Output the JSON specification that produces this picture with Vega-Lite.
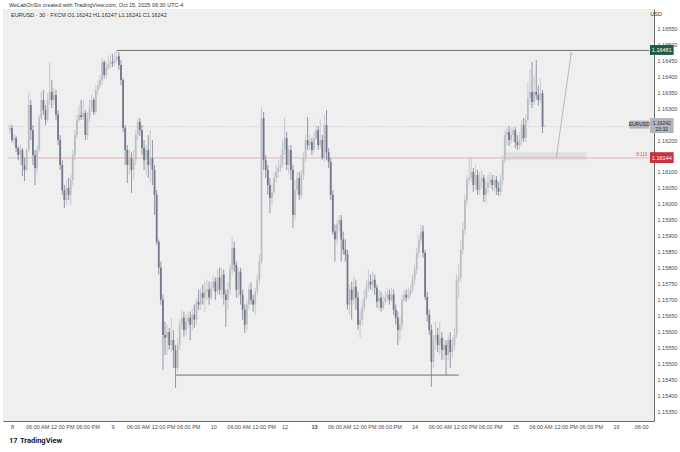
{
"$schema": "https://vega.github.io/schema/vega-lite/v6.json",
"autosize": {"type": "none"},
"padding": {"left": 3, "top": 9, "right": 26, "bottom": 31},
"width": 651,
"height": 412,
"background": "#ffffff",
"view": {"fill": "#efefef", "stroke": null},
"config": {"font": "Liberation Sans"},
"datasets": {
"candles": [
{"i":-1,"o":1.16231,"h":1.16250,"l":1.16219,"c":1.16238},
{"i":0,"o":1.16238,"h":1.16247,"l":1.16194,"c":1.16200},
{"i":1,"o":1.16200,"h":1.16219,"l":1.16184,"c":1.16206},
{"i":2,"o":1.16206,"h":1.16213,"l":1.16162,"c":1.16175},
{"i":3,"o":1.16175,"h":1.16181,"l":1.16137,"c":1.16153},
{"i":4,"o":1.16153,"h":1.16188,"l":1.16122,"c":1.16169},
{"i":5,"o":1.16169,"h":1.16175,"l":1.16087,"c":1.16122},
{"i":6,"o":1.16122,"h":1.16144,"l":1.16072,"c":1.16106},
{"i":7,"o":1.16106,"h":1.16175,"l":1.16100,"c":1.16169},
{"i":8,"o":1.16169,"h":1.16351,"l":1.16162,"c":1.16310},
{"i":9,"o":1.16310,"h":1.16326,"l":1.16200,"c":1.16231},
{"i":10,"o":1.16231,"h":1.16247,"l":1.16122,"c":1.16153},
{"i":11,"o":1.16153,"h":1.16169,"l":1.16059,"c":1.16112},
{"i":12,"o":1.16112,"h":1.16184,"l":1.16091,"c":1.16169},
{"i":13,"o":1.16169,"h":1.16279,"l":1.16162,"c":1.16269},
{"i":14,"o":1.16269,"h":1.16351,"l":1.16263,"c":1.16326},
{"i":15,"o":1.16326,"h":1.16357,"l":1.16279,"c":1.16294},
{"i":16,"o":1.16294,"h":1.16310,"l":1.16247,"c":1.16263},
{"i":17,"o":1.16263,"h":1.16347,"l":1.16257,"c":1.16326},
{"i":18,"o":1.16326,"h":1.16445,"l":1.16310,"c":1.16351},
{"i":19,"o":1.16351,"h":1.16388,"l":1.16300,"c":1.16326},
{"i":20,"o":1.16326,"h":1.16363,"l":1.16310,"c":1.16341},
{"i":21,"o":1.16341,"h":1.16357,"l":1.16263,"c":1.16279},
{"i":22,"o":1.16279,"h":1.16294,"l":1.16184,"c":1.16200},
{"i":23,"o":1.16200,"h":1.16216,"l":1.16106,"c":1.16122},
{"i":24,"o":1.16122,"h":1.16137,"l":1.16028,"c":1.16043},
{"i":25,"o":1.16043,"h":1.16059,"l":1.15987,"c":1.16012},
{"i":26,"o":1.16012,"h":1.16075,"l":1.15996,"c":1.16050},
{"i":27,"o":1.16050,"h":1.16081,"l":1.16012,"c":1.16028},
{"i":28,"o":1.16028,"h":1.16091,"l":1.15996,"c":1.16075},
{"i":29,"o":1.16075,"h":1.16169,"l":1.16059,"c":1.16153},
{"i":30,"o":1.16153,"h":1.16231,"l":1.16137,"c":1.16216},
{"i":31,"o":1.16216,"h":1.16279,"l":1.16206,"c":1.16263},
{"i":32,"o":1.16263,"h":1.16310,"l":1.16257,"c":1.16279},
{"i":33,"o":1.16279,"h":1.16326,"l":1.16263,"c":1.16272},
{"i":34,"o":1.16272,"h":1.16326,"l":1.16263,"c":1.16285},
{"i":35,"o":1.16285,"h":1.16294,"l":1.16200,"c":1.16216},
{"i":36,"o":1.16216,"h":1.16288,"l":1.16200,"c":1.16269},
{"i":37,"o":1.16269,"h":1.16326,"l":1.16257,"c":1.16300},
{"i":38,"o":1.16300,"h":1.16341,"l":1.16288,"c":1.16326},
{"i":39,"o":1.16326,"h":1.16332,"l":1.16279,"c":1.16288},
{"i":40,"o":1.16288,"h":1.16372,"l":1.16282,"c":1.16357},
{"i":41,"o":1.16357,"h":1.16388,"l":1.16341,"c":1.16372},
{"i":42,"o":1.16372,"h":1.16404,"l":1.16363,"c":1.16388},
{"i":43,"o":1.16388,"h":1.16457,"l":1.16372,"c":1.16445},
{"i":44,"o":1.16445,"h":1.16451,"l":1.16394,"c":1.16404},
{"i":45,"o":1.16404,"h":1.16445,"l":1.16394,"c":1.16426},
{"i":46,"o":1.16426,"h":1.16463,"l":1.16420,"c":1.16438},
{"i":47,"o":1.16438,"h":1.16467,"l":1.16426,"c":1.16445},
{"i":48,"o":1.16445,"h":1.16470,"l":1.16429,"c":1.16441},
{"i":49,"o":1.16441,"h":1.16476,"l":1.16432,"c":1.16451},
{"i":50,"o":1.16451,"h":1.16481,"l":1.16445,"c":1.16463},
{"i":51,"o":1.16463,"h":1.16476,"l":1.16420,"c":1.16435},
{"i":52,"o":1.16435,"h":1.16451,"l":1.16372,"c":1.16388},
{"i":53,"o":1.16388,"h":1.16394,"l":1.16225,"c":1.16238},
{"i":54,"o":1.16238,"h":1.16247,"l":1.16122,"c":1.16169},
{"i":55,"o":1.16169,"h":1.16184,"l":1.16065,"c":1.16122},
{"i":56,"o":1.16122,"h":1.16169,"l":1.16091,"c":1.16144},
{"i":57,"o":1.16144,"h":1.16162,"l":1.16034,"c":1.16106},
{"i":58,"o":1.16106,"h":1.16169,"l":1.16075,"c":1.16137},
{"i":59,"o":1.16137,"h":1.16231,"l":1.16122,"c":1.16216},
{"i":60,"o":1.16216,"h":1.16269,"l":1.16200,"c":1.16257},
{"i":61,"o":1.16257,"h":1.16269,"l":1.16213,"c":1.16231},
{"i":62,"o":1.16231,"h":1.16247,"l":1.16153,"c":1.16175},
{"i":63,"o":1.16175,"h":1.16200,"l":1.16106,"c":1.16137},
{"i":64,"o":1.16137,"h":1.16184,"l":1.16091,"c":1.16169},
{"i":65,"o":1.16169,"h":1.16216,"l":1.16081,"c":1.16122},
{"i":66,"o":1.16122,"h":1.16231,"l":1.16068,"c":1.16144},
{"i":67,"o":1.16144,"h":1.16200,"l":1.16059,"c":1.16106},
{"i":68,"o":1.16106,"h":1.16122,"l":1.15965,"c":1.16028},
{"i":69,"o":1.16028,"h":1.16043,"l":1.15872,"c":1.15881},
{"i":70,"o":1.15881,"h":1.15888,"l":1.15778,"c":1.15800},
{"i":71,"o":1.15800,"h":1.15819,"l":1.15684,"c":1.15699},
{"i":72,"o":1.15699,"h":1.15715,"l":1.15479,"c":1.15589},
{"i":73,"o":1.15589,"h":1.15630,"l":1.15526,"c":1.15580},
{"i":74,"o":1.15580,"h":1.15621,"l":1.15526,"c":1.15598},
{"i":75,"o":1.15598,"h":1.15611,"l":1.15542,"c":1.15557},
{"i":76,"o":1.15557,"h":1.15643,"l":1.15535,"c":1.15573},
{"i":77,"o":1.15573,"h":1.15604,"l":1.15485,"c":1.15542},
{"i":78,"o":1.15542,"h":1.15557,"l":1.15423,"c":1.15485},
{"i":79,"o":1.15485,"h":1.15580,"l":1.15472,"c":1.15557},
{"i":80,"o":1.15557,"h":1.15637,"l":1.15542,"c":1.15621},
{"i":81,"o":1.15621,"h":1.15668,"l":1.15604,"c":1.15643},
{"i":82,"o":1.15643,"h":1.15662,"l":1.15583,"c":1.15604},
{"i":83,"o":1.15604,"h":1.15652,"l":1.15586,"c":1.15630},
{"i":84,"o":1.15630,"h":1.15662,"l":1.15611,"c":1.15643},
{"i":85,"o":1.15643,"h":1.15662,"l":1.15573,"c":1.15621},
{"i":86,"o":1.15621,"h":1.15674,"l":1.15604,"c":1.15652},
{"i":87,"o":1.15652,"h":1.15684,"l":1.15611,"c":1.15637},
{"i":88,"o":1.15637,"h":1.15706,"l":1.15621,"c":1.15693},
{"i":89,"o":1.15693,"h":1.15731,"l":1.15668,"c":1.15684},
{"i":90,"o":1.15684,"h":1.15737,"l":1.15668,"c":1.15721},
{"i":91,"o":1.15721,"h":1.15747,"l":1.15684,"c":1.15706},
{"i":92,"o":1.15706,"h":1.15756,"l":1.15662,"c":1.15725},
{"i":93,"o":1.15725,"h":1.15762,"l":1.15699,"c":1.15731},
{"i":94,"o":1.15731,"h":1.15756,"l":1.15684,"c":1.15706},
{"i":95,"o":1.15706,"h":1.15756,"l":1.15699,"c":1.15737},
{"i":96,"o":1.15737,"h":1.15775,"l":1.15725,"c":1.15756},
{"i":97,"o":1.15756,"h":1.15769,"l":1.15699,"c":1.15725},
{"i":98,"o":1.15725,"h":1.15794,"l":1.15715,"c":1.15769},
{"i":99,"o":1.15769,"h":1.15800,"l":1.15715,"c":1.15731},
{"i":100,"o":1.15731,"h":1.15800,"l":1.15706,"c":1.15778},
{"i":101,"o":1.15778,"h":1.15794,"l":1.15684,"c":1.15715},
{"i":102,"o":1.15715,"h":1.15731,"l":1.15614,"c":1.15699},
{"i":103,"o":1.15699,"h":1.15756,"l":1.15668,"c":1.15731},
{"i":104,"o":1.15731,"h":1.15809,"l":1.15715,"c":1.15794},
{"i":105,"o":1.15794,"h":1.15897,"l":1.15778,"c":1.15862},
{"i":106,"o":1.15862,"h":1.15881,"l":1.15787,"c":1.15809},
{"i":107,"o":1.15809,"h":1.15819,"l":1.15706,"c":1.15731},
{"i":108,"o":1.15731,"h":1.15800,"l":1.15706,"c":1.15787},
{"i":109,"o":1.15787,"h":1.15800,"l":1.15684,"c":1.15715},
{"i":110,"o":1.15715,"h":1.15731,"l":1.15637,"c":1.15668},
{"i":111,"o":1.15668,"h":1.15684,"l":1.15595,"c":1.15621},
{"i":112,"o":1.15621,"h":1.15699,"l":1.15604,"c":1.15684},
{"i":113,"o":1.15684,"h":1.15747,"l":1.15668,"c":1.15731},
{"i":114,"o":1.15731,"h":1.15753,"l":1.15684,"c":1.15699},
{"i":115,"o":1.15699,"h":1.15715,"l":1.15662,"c":1.15684},
{"i":116,"o":1.15684,"h":1.15737,"l":1.15652,"c":1.15725},
{"i":117,"o":1.15725,"h":1.15778,"l":1.15715,"c":1.15762},
{"i":118,"o":1.15762,"h":1.15841,"l":1.15747,"c":1.15819},
{"i":119,"o":1.15819,"h":1.16304,"l":1.15809,"c":1.16269},
{"i":120,"o":1.16269,"h":1.16288,"l":1.16106,"c":1.16137},
{"i":121,"o":1.16137,"h":1.16153,"l":1.16081,"c":1.16106},
{"i":122,"o":1.16106,"h":1.16122,"l":1.16028,"c":1.16059},
{"i":123,"o":1.16059,"h":1.16081,"l":1.15971,"c":1.16018},
{"i":124,"o":1.16018,"h":1.16059,"l":1.15996,"c":1.16037},
{"i":125,"o":1.16037,"h":1.16100,"l":1.16028,"c":1.16081},
{"i":126,"o":1.16081,"h":1.16122,"l":1.16068,"c":1.16100},
{"i":127,"o":1.16100,"h":1.16137,"l":1.16081,"c":1.16112},
{"i":128,"o":1.16112,"h":1.16153,"l":1.16100,"c":1.16122},
{"i":129,"o":1.16122,"h":1.16200,"l":1.16112,"c":1.16169},
{"i":130,"o":1.16169,"h":1.16272,"l":1.16153,"c":1.16206},
{"i":131,"o":1.16206,"h":1.16225,"l":1.16106,"c":1.16122},
{"i":132,"o":1.16122,"h":1.16184,"l":1.16091,"c":1.16169},
{"i":133,"o":1.16169,"h":1.16184,"l":1.16075,"c":1.16106},
{"i":134,"o":1.16106,"h":1.16122,"l":1.15925,"c":1.15965},
{"i":135,"o":1.15965,"h":1.16075,"l":1.15949,"c":1.16043},
{"i":136,"o":1.16043,"h":1.16100,"l":1.16028,"c":1.16081},
{"i":137,"o":1.16081,"h":1.16100,"l":1.16012,"c":1.16028},
{"i":138,"o":1.16028,"h":1.16106,"l":1.16018,"c":1.16091},
{"i":139,"o":1.16091,"h":1.16162,"l":1.16075,"c":1.16144},
{"i":140,"o":1.16144,"h":1.16216,"l":1.16131,"c":1.16200},
{"i":141,"o":1.16200,"h":1.16272,"l":1.16169,"c":1.16184},
{"i":142,"o":1.16184,"h":1.16216,"l":1.16169,"c":1.16194},
{"i":143,"o":1.16194,"h":1.16206,"l":1.16153,"c":1.16169},
{"i":144,"o":1.16169,"h":1.16225,"l":1.16162,"c":1.16206},
{"i":145,"o":1.16206,"h":1.16247,"l":1.16200,"c":1.16231},
{"i":146,"o":1.16231,"h":1.16244,"l":1.16169,"c":1.16184},
{"i":147,"o":1.16184,"h":1.16263,"l":1.16175,"c":1.16200},
{"i":148,"o":1.16200,"h":1.16216,"l":1.16137,"c":1.16144},
{"i":149,"o":1.16144,"h":1.16279,"l":1.16131,"c":1.16247},
{"i":150,"o":1.16247,"h":1.16294,"l":1.16137,"c":1.16162},
{"i":151,"o":1.16162,"h":1.16175,"l":1.16112,"c":1.16131},
{"i":152,"o":1.16131,"h":1.16144,"l":1.16012,"c":1.16028},
{"i":153,"o":1.16028,"h":1.16043,"l":1.15903,"c":1.15913},
{"i":154,"o":1.15913,"h":1.15935,"l":1.15819,"c":1.15888},
{"i":155,"o":1.15888,"h":1.15949,"l":1.15872,"c":1.15935},
{"i":156,"o":1.15935,"h":1.15965,"l":1.15913,"c":1.15949},
{"i":157,"o":1.15949,"h":1.15965,"l":1.15819,"c":1.15888},
{"i":158,"o":1.15888,"h":1.15913,"l":1.15841,"c":1.15856},
{"i":159,"o":1.15856,"h":1.15888,"l":1.15819,"c":1.15841},
{"i":160,"o":1.15841,"h":1.15856,"l":1.15668,"c":1.15684},
{"i":161,"o":1.15684,"h":1.15747,"l":1.15652,"c":1.15731},
{"i":162,"o":1.15731,"h":1.15756,"l":1.15637,"c":1.15699},
{"i":163,"o":1.15699,"h":1.15772,"l":1.15684,"c":1.15740},
{"i":164,"o":1.15740,"h":1.15762,"l":1.15668,"c":1.15706},
{"i":165,"o":1.15706,"h":1.15725,"l":1.15604,"c":1.15621},
{"i":166,"o":1.15621,"h":1.15668,"l":1.15580,"c":1.15637},
{"i":167,"o":1.15637,"h":1.15699,"l":1.15621,"c":1.15674},
{"i":168,"o":1.15674,"h":1.15731,"l":1.15662,"c":1.15706},
{"i":169,"o":1.15706,"h":1.15762,"l":1.15699,"c":1.15737},
{"i":170,"o":1.15737,"h":1.15794,"l":1.15725,"c":1.15756},
{"i":171,"o":1.15756,"h":1.15778,"l":1.15731,"c":1.15747},
{"i":172,"o":1.15747,"h":1.15787,"l":1.15725,"c":1.15762},
{"i":173,"o":1.15762,"h":1.15778,"l":1.15715,"c":1.15737},
{"i":174,"o":1.15737,"h":1.15747,"l":1.15674,"c":1.15693},
{"i":175,"o":1.15693,"h":1.15731,"l":1.15668,"c":1.15706},
{"i":176,"o":1.15706,"h":1.15725,"l":1.15662,"c":1.15674},
{"i":177,"o":1.15674,"h":1.15715,"l":1.15668,"c":1.15693},
{"i":178,"o":1.15693,"h":1.15725,"l":1.15684,"c":1.15706},
{"i":179,"o":1.15706,"h":1.15737,"l":1.15693,"c":1.15715},
{"i":180,"o":1.15715,"h":1.15731,"l":1.15684,"c":1.15699},
{"i":181,"o":1.15699,"h":1.15737,"l":1.15693,"c":1.15715},
{"i":182,"o":1.15715,"h":1.15731,"l":1.15652,"c":1.15668},
{"i":183,"o":1.15668,"h":1.15684,"l":1.15621,"c":1.15643},
{"i":184,"o":1.15643,"h":1.15662,"l":1.15557,"c":1.15604},
{"i":185,"o":1.15604,"h":1.15643,"l":1.15573,"c":1.15621},
{"i":186,"o":1.15621,"h":1.15715,"l":1.15604,"c":1.15699},
{"i":187,"o":1.15699,"h":1.15731,"l":1.15693,"c":1.15715},
{"i":188,"o":1.15715,"h":1.15731,"l":1.15693,"c":1.15706},
{"i":189,"o":1.15706,"h":1.15737,"l":1.15699,"c":1.15715},
{"i":190,"o":1.15715,"h":1.15747,"l":1.15706,"c":1.15731},
{"i":191,"o":1.15731,"h":1.15778,"l":1.15721,"c":1.15762},
{"i":192,"o":1.15762,"h":1.15809,"l":1.15747,"c":1.15794},
{"i":193,"o":1.15794,"h":1.15862,"l":1.15778,"c":1.15847},
{"i":194,"o":1.15847,"h":1.15903,"l":1.15831,"c":1.15888},
{"i":195,"o":1.15888,"h":1.15935,"l":1.15872,"c":1.15913},
{"i":196,"o":1.15913,"h":1.15932,"l":1.15831,"c":1.15847},
{"i":197,"o":1.15847,"h":1.15856,"l":1.15699,"c":1.15709},
{"i":198,"o":1.15709,"h":1.15725,"l":1.15630,"c":1.15652},
{"i":199,"o":1.15652,"h":1.15668,"l":1.15589,"c":1.15604},
{"i":200,"o":1.15604,"h":1.15621,"l":1.15426,"c":1.15504},
{"i":201,"o":1.15504,"h":1.15589,"l":1.15485,"c":1.15573},
{"i":202,"o":1.15573,"h":1.15630,"l":1.15542,"c":1.15589},
{"i":203,"o":1.15589,"h":1.15611,"l":1.15535,"c":1.15557},
{"i":204,"o":1.15557,"h":1.15630,"l":1.15526,"c":1.15580},
{"i":205,"o":1.15580,"h":1.15598,"l":1.15510,"c":1.15542},
{"i":206,"o":1.15542,"h":1.15580,"l":1.15510,"c":1.15557},
{"i":207,"o":1.15557,"h":1.15573,"l":1.15463,"c":1.15526},
{"i":208,"o":1.15526,"h":1.15589,"l":1.15510,"c":1.15573},
{"i":209,"o":1.15573,"h":1.15598,"l":1.15485,"c":1.15535},
{"i":210,"o":1.15535,"h":1.15580,"l":1.15517,"c":1.15557},
{"i":211,"o":1.15557,"h":1.15611,"l":1.15542,"c":1.15589},
{"i":212,"o":1.15589,"h":1.15778,"l":1.15580,"c":1.15762},
{"i":213,"o":1.15762,"h":1.15809,"l":1.15706,"c":1.15769},
{"i":214,"o":1.15769,"h":1.15888,"l":1.15756,"c":1.15856},
{"i":215,"o":1.15856,"h":1.15943,"l":1.15841,"c":1.15919},
{"i":216,"o":1.15919,"h":1.16028,"l":1.15903,"c":1.16012},
{"i":217,"o":1.16012,"h":1.16091,"l":1.15996,"c":1.16075},
{"i":218,"o":1.16075,"h":1.16144,"l":1.16059,"c":1.16081},
{"i":219,"o":1.16081,"h":1.16147,"l":1.16068,"c":1.16100},
{"i":220,"o":1.16100,"h":1.16112,"l":1.16037,"c":1.16059},
{"i":221,"o":1.16059,"h":1.16122,"l":1.16043,"c":1.16091},
{"i":222,"o":1.16091,"h":1.16106,"l":1.16028,"c":1.16043},
{"i":223,"o":1.16043,"h":1.16100,"l":1.16028,"c":1.16068},
{"i":224,"o":1.16068,"h":1.16106,"l":1.16050,"c":1.16081},
{"i":225,"o":1.16081,"h":1.16091,"l":1.16006,"c":1.16028},
{"i":226,"o":1.16028,"h":1.16075,"l":1.16003,"c":1.16050},
{"i":227,"o":1.16050,"h":1.16091,"l":1.16034,"c":1.16068},
{"i":228,"o":1.16068,"h":1.16100,"l":1.16050,"c":1.16075},
{"i":229,"o":1.16075,"h":1.16091,"l":1.16043,"c":1.16059},
{"i":230,"o":1.16059,"h":1.16091,"l":1.16037,"c":1.16075},
{"i":231,"o":1.16075,"h":1.16087,"l":1.16028,"c":1.16050},
{"i":232,"o":1.16050,"h":1.16068,"l":1.16025,"c":1.16037},
{"i":233,"o":1.16037,"h":1.16091,"l":1.16025,"c":1.16075},
{"i":234,"o":1.16075,"h":1.16153,"l":1.16059,"c":1.16137},
{"i":235,"o":1.16137,"h":1.16231,"l":1.16128,"c":1.16216},
{"i":236,"o":1.16216,"h":1.16238,"l":1.16184,"c":1.16225},
{"i":237,"o":1.16225,"h":1.16244,"l":1.16181,"c":1.16200},
{"i":238,"o":1.16200,"h":1.16238,"l":1.16188,"c":1.16216},
{"i":239,"o":1.16216,"h":1.16244,"l":1.16194,"c":1.16231},
{"i":240,"o":1.16231,"h":1.16241,"l":1.16175,"c":1.16194},
{"i":241,"o":1.16194,"h":1.16216,"l":1.16169,"c":1.16184},
{"i":242,"o":1.16184,"h":1.16225,"l":1.16169,"c":1.16200},
{"i":243,"o":1.16200,"h":1.16263,"l":1.16181,"c":1.16247},
{"i":244,"o":1.16247,"h":1.16269,"l":1.16194,"c":1.16206},
{"i":245,"o":1.16206,"h":1.16279,"l":1.16194,"c":1.16263},
{"i":246,"o":1.16263,"h":1.16382,"l":1.16257,"c":1.16332},
{"i":247,"o":1.16332,"h":1.16420,"l":1.16310,"c":1.16351},
{"i":248,"o":1.16351,"h":1.16445,"l":1.16300,"c":1.16319},
{"i":249,"o":1.16319,"h":1.16404,"l":1.16310,"c":1.16351},
{"i":250,"o":1.16351,"h":1.16451,"l":1.16326,"c":1.16341},
{"i":251,"o":1.16341,"h":1.16372,"l":1.16307,"c":1.16326},
{"i":252,"o":1.16326,"h":1.16394,"l":1.16316,"c":1.16347},
{"i":253,"o":1.16347,"h":1.16357,"l":1.16222,"c":1.16242},
{"i":254,"o":1.16242,"h":1.16247,"l":1.16241,"c":1.16242}
]
},
"encoding": {
"x": {"field": "i", "type": "quantitative", "scale": {"domain": [-1.88, 303.76], "nice": false, "zero": false},
  "axis": {"title": null, "orient": "bottom", "zindex": 0, "values": [0,12,24,36,48,60,72,84,96,108,120,130,144,156,168,180,192,204,216,228,240,252,264,276,288,300],
    "labelExpr": "datum.value==0?'8':datum.value==48?'9':datum.value==96?'10':datum.value==130?'12':datum.value==144?'13':datum.value==192?'14':datum.value==240?'15':datum.value==288?'16':datum.value==300?'06:00':(datum.value%48==12?'06:00 AM':(datum.value%48==24?'12:00 PM':'06:00 PM'))",
    "labelFontSize": 5.5, "labelColor": "#4a4a4a", "labelFont": "Liberation Sans", "labelPadding": 3, "ticks": false, "grid": false, "domainColor": "#6a6a6a", "domainWidth": 1, "labelOverlap": false,
    "labelFontWeight": {"condition": {"test": "datum.value==144", "value": "bold"}, "value": "normal"}}},
"y": {"type": "quantitative", "scale": {"domain": [1.15319, 1.16611], "nice": false, "zero": false},
  "axis": {"title": null, "orient": "right", "zindex": 0, "values": [1.1535,1.154,1.1545,1.155,1.1555,1.156,1.1565,1.157,1.1575,1.158,1.1585,1.159,1.1595,1.16,1.1605,1.161,1.162,1.163,1.1635,1.164,1.1645,1.165,1.1655],
    "format": ".5f", "labelFontSize": 5.5, "labelColor": "#4a4a4a", "labelFont": "Liberation Sans", "labelPadding": 3, "ticks": false, "grid": false, "domainColor": "#6a6a6a", "domainWidth": 1, "labelOverlap": false}}
},
"layer": [
{"data": {"values": [{"a": 235, "b": 274, "p1": 1.16162, "p2": 1.16137}]},
 "mark": {"type": "rect", "color": "#dcdcdf", "opacity": 0.8},
 "encoding": {"x": {"field": "a", "type": "quantitative"}, "x2": {"field": "b"}, "y": {"field": "p1", "type": "quantitative"}, "y2": {"field": "p2"}}},
{"data": {"values": [{"a": -1.88, "b": 303.76, "p": 1.16242}]},
 "mark": {"type": "rule", "color": "#b8b8c0", "strokeWidth": 0.6, "strokeDash": [1, 1.5]},
 "encoding": {"x": {"field": "a", "type": "quantitative"}, "x2": {"field": "b"}, "y": {"field": "p", "type": "quantitative"}}},
{"data": {"values": [{"a": -1.88, "b": 303.76, "p": 1.16144}]},
 "mark": {"type": "rule", "color": "#e59aa2", "strokeWidth": 0.7},
 "encoding": {"x": {"field": "a", "type": "quantitative"}, "x2": {"field": "b"}, "y": {"field": "p", "type": "quantitative"}}},
{"data": {"values": [{"a": 50, "b": 303.76, "p": 1.16481}, {"a": 78, "b": 213, "p": 1.15463}]},
 "mark": {"type": "rule", "color": "#707070", "strokeWidth": 1},
 "encoding": {"x": {"field": "a", "type": "quantitative"}, "x2": {"field": "b"}, "y": {"field": "p", "type": "quantitative"}}},
{"data": {"name": "candles"},
 "mark": {"type": "rule", "strokeWidth": 0.75},
 "encoding": {"x": {"field": "i", "type": "quantitative"}, "y": {"field": "l", "type": "quantitative"}, "y2": {"field": "h"},
   "color": {"condition": {"test": "datum.c < datum.o", "value": "#737989"}, "value": "#bcbec5"}}},
{"data": {"name": "candles"},
 "mark": {"type": "bar", "width": 1.8},
 "encoding": {"x": {"field": "i", "type": "quantitative"}, "y": {"field": "o", "type": "quantitative"}, "y2": {"field": "c"},
   "color": {"condition": {"test": "datum.c < datum.o", "value": "#737989"}, "value": "#bcbec5"}}},
{"data": {"values": [{"a": 259.6, "p": 1.16147}, {"a": 266.7, "p": 1.16473}]},
 "mark": {"type": "line", "color": "#a0a0aa", "strokeWidth": 0.7},
 "encoding": {"x": {"field": "a", "type": "quantitative"}, "y": {"field": "p", "type": "quantitative"}}},
{"data": {"values": [{"a": 266.7, "p": 1.16473}]},
 "mark": {"type": "point", "shape": "M -1 1 L 0 0 L 1 1", "filled": false, "stroke": "#a0a0aa", "strokeWidth": 0.7, "size": 10, "angle": 8},
 "encoding": {"x": {"field": "a", "type": "quantitative"}, "y": {"field": "p", "type": "quantitative"}}},
{"data": {"values": [{"a": 304.2, "b": 315.5, "p1": 1.16498, "p2": 1.16467}]},
 "mark": {"type": "rect", "color": "#1d5b4b"},
 "encoding": {"x": {"field": "a", "type": "quantitative"}, "x2": {"field": "b"}, "y": {"field": "p1", "type": "quantitative"}, "y2": {"field": "p2"}}},
{"data": {"values": [{"a": 304.2, "b": 315.5, "p1": 1.16162, "p2": 1.16128}]},
 "mark": {"type": "rect", "color": "#c8323f"},
 "encoding": {"x": {"field": "a", "type": "quantitative"}, "x2": {"field": "b"}, "y": {"field": "p1", "type": "quantitative"}, "y2": {"field": "p2"}}},
{"data": {"values": [{"a": 304.2, "b": 315.5, "p1": 1.16269, "p2": 1.16222}, {"a": 294.4, "b": 303.8, "p1": 1.16261, "p2": 1.16236}]},
 "mark": {"type": "rect", "color": "#b4b5bd"},
 "encoding": {"x": {"field": "a", "type": "quantitative"}, "x2": {"field": "b"}, "y": {"field": "p1", "type": "quantitative"}, "y2": {"field": "p2"}}},
{"data": {"values": [{"a": 309.85, "p": 1.16482, "t": "1.16481"}, {"a": 309.85, "p": 1.16145, "t": "1.16144"}]},
 "mark": {"type": "text", "fontSize": 5.5, "font": "Liberation Sans", "align": "center", "baseline": "middle", "color": "#ffffff"},
 "encoding": {"x": {"field": "a", "type": "quantitative"}, "y": {"field": "p", "type": "quantitative"}, "text": {"field": "t"}}},
{"data": {"values": [{"a": 309.85, "p": 1.16255, "t": "1.16242"}, {"a": 309.85, "p": 1.16235, "t": "23:32"}, {"a": 299.1, "p": 1.16249, "t": "EURUSD"}]},
 "mark": {"type": "text", "fontSize": 5, "font": "Liberation Sans", "align": "center", "baseline": "middle", "color": "#2a2a2a"},
 "encoding": {"x": {"field": "a", "type": "quantitative"}, "y": {"field": "p", "type": "quantitative"}, "text": {"field": "t"}}},
{"data": {"values": [{"a": 302.9, "p": 1.16153, "t": "8:110"}]},
 "mark": {"type": "text", "fontSize": 4.5, "font": "Liberation Sans", "align": "right", "baseline": "middle", "color": "#d0505c"},
 "encoding": {"x": {"field": "a", "type": "quantitative"}, "y": {"field": "p", "type": "quantitative"}, "text": {"field": "t"}}},
{"data": {"values": [
   {"a": -0.4, "p": 1.16592, "t": "EURUSD · 30 · FXCM   O1.16242  H1.16247  L1.16241  C1.16242"},
   {"a": -1.4, "p": 1.16623, "t": "WeLabOnSix created with TradingView.com, Oct 15, 2025 06:30 UTC-4"},
   {"a": 304.4, "p": 1.16595, "t": "USD"}]},
 "mark": {"type": "text", "fontSize": 5.5, "font": "Liberation Sans", "align": "left", "baseline": "middle", "color": "#333333"},
 "encoding": {"x": {"field": "a", "type": "quantitative"}, "y": {"field": "p", "type": "quantitative"}, "text": {"field": "t"}}},
{"data": {"values": [{"a": -1.4, "p": 1.15256, "t": "17"}, {"a": 3.8, "p": 1.15256, "t": "TradingView"}]},
 "mark": {"type": "text", "fontSize": 7.5, "font": "Roboto", "fontWeight": "bold", "align": "left", "baseline": "middle", "color": "#131722"},
 "encoding": {"x": {"field": "a", "type": "quantitative"}, "y": {"field": "p", "type": "quantitative"}, "text": {"field": "t"}}}
]
}
